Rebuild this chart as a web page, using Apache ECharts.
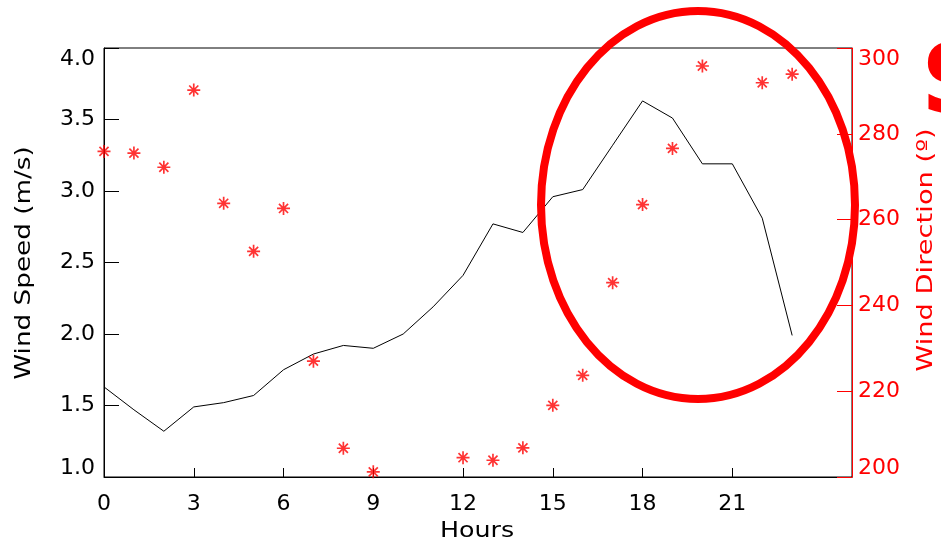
<!DOCTYPE html>
<html>
<head>
<meta charset="utf-8">
<script src="https://cdn.jsdelivr.net/npm/echarts@6/dist/echarts.min.js"></script>
<style>html,body{margin:0;padding:0;background:#fff}#c{width:941px;height:544px}</style>
</head>
<body>
<div id="c"></div>
<script>
var hours = [0,1,2,3,4,5,6,7,8,9,10,11,12,13,14,15,16,17,18,19,20,21,22,23];
var windSpeed = [1.63,1.47,1.32,1.49,1.52,1.57,1.75,1.86,1.92,1.90,2.00,2.19,2.41,2.77,2.71,2.96,3.01,3.32,3.63,3.51,3.19,3.19,2.81,1.99];
var dirHours = [0,1,2,3,4,5,6,7,8,9,12,13,14,15,16,17,18,19,20,22,23];
var windDir = [275.9,275.5,272.2,290.2,263.8,252.6,262.6,227.0,206.7,201.2,204.5,203.9,206.8,216.7,223.7,245.3,263.5,276.6,295.8,291.9,293.9];
var xTicks = [0,3,6,9,12,15,18,21];

var font = 'DejaVu Sans';
var fs = 22;
var speedData = hours.map(function(h,i){return [h, windSpeed[i]];});
var dirData = dirHours.map(function(h,i){return [h, windDir[i]];});
var star = 'path://M0,-10L0,10M-10,0L10,0M-7,-7L7,7M-7,7L7,-7';

function richFor(color){
  var base = {fontFamily:font,fontSize:fs,color:color};
  return {
    t: Object.assign({padding:[22,0,0,0]}, base),
    b: Object.assign({padding:[0,0,18,0]}, base)
  };
}

var chart = echarts.init(document.getElementById('c'));
chart.setOption({
  animation:false,
  backgroundColor:'#fff',
  grid:{left:104,right:89,top:48,bottom:67,show:true,borderColor:'#000',borderWidth:1,backgroundColor:'transparent'},
  xAxis:{type:'value',min:0,max:25,interval:3,
    axisLine:{lineStyle:{color:'#000',width:1}},
    axisTick:{inside:true,length:9,lineStyle:{color:'#000'},customValues:xTicks},
    axisLabel:{fontFamily:font,fontSize:fs,color:'#000',margin:16,customValues:xTicks},
    splitLine:{show:false}},
  yAxis:[
    {type:'value',min:1,max:4,interval:0.5,position:'left',
     axisLine:{show:true,lineStyle:{color:'#000'}},
     axisTick:{show:true,inside:true,length:15,lineStyle:{color:'#000'}},
     axisLabel:{fontFamily:font,fontSize:fs,color:'#000',margin:9,rich:richFor('#000'),
       formatter:function(v){var s=v.toFixed(1); if(v===4) return '{t|'+s+'}'; if(v===1) return '{b|'+s+'}'; return s;}},
     splitLine:{show:false}},
    {type:'value',min:200,max:300,interval:20,position:'right',
     axisLine:{show:true,lineStyle:{color:'#ff0000'}},
     axisTick:{show:true,inside:true,length:15,lineStyle:{color:'#ff0000'}},
     axisLabel:{fontFamily:font,fontSize:fs,color:'#ff0000',margin:6,rich:richFor('#ff0000'),
       formatter:function(v){var s=String(v); if(v===300) return '{t|'+s+'}'; if(v===200) return '{b|'+s+'}'; return s;}},
     splitLine:{show:false}}
  ],
  series:[
    {type:'line',data:speedData,yAxisIndex:0,symbol:'none',lineStyle:{color:'#000',width:1},z:3},
    {type:'scatter',data:dirData,yAxisIndex:1,symbol:star,symbolSize:13,
     itemStyle:{color:'#ff0000',borderColor:'#ff0000',borderWidth:1.7},z:4}
  ],
  graphic:[
    {type:'text',x:25,y:263,rotation:Math.PI/2,scaleX:1.25,style:{text:'Wind Speed (m/s)',font:'21px "DejaVu Sans"',fill:'#000',align:'center',verticalAlign:'middle'}},
    {type:'text',x:927,y:250,rotation:Math.PI/2,scaleX:1.3,style:{text:'Wind Direction (\u00ba)',font:'21px "DejaVu Sans"',fill:'#ff0000',align:'center',verticalAlign:'middle'}},
    {type:'text',x:477,y:531,scaleX:1.15,style:{text:'Hours',font:'22px "DejaVu Sans"',fill:'#000',align:'center',verticalAlign:'middle'}},
    {type:'ellipse',shape:{cx:698,cy:205,rx:157,ry:194},style:{fill:'none',stroke:'#ff0000',lineWidth:8},z:100},
    {type:'text',x:921,y:40,style:{text:'S',font:'bold 96px "DejaVu Sans"',fill:'#ff0000'},z:100}
  ]
});
</script>
</body>
</html>
